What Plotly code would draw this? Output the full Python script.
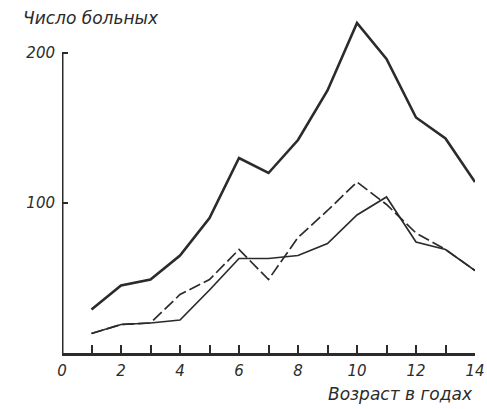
import plotly.graph_objects as go

ages = [1, 2, 3, 4, 5, 6, 7, 8, 9, 10, 11, 12, 13, 14]
total = [29, 45, 49, 65, 90, 130, 120, 142, 175, 220, 196, 157, 143, 114]
series_dashed = [13, 19, 20, 39, 49, 69, 49, 77, 95, 114, 99, 80, 69, 55]
series_solid = [13, 19, 20, 22, 42, 63, 63, 65, 73, 92, 104, 74, 69, 55]

x_tickvals = list(range(0, 15))
x_ticktext = [str(v) if v % 2 == 0 else "" for v in x_tickvals]
y_tickvals = [100, 200]

ink = "#2b2b2b"
font_main = dict(family="DejaVu Sans", size=17, color=ink, style="italic")
font_ticks = dict(family="DejaVu Sans", size=15, color=ink, style="italic")

fig = go.Figure()
fig.add_trace(go.Scatter(x=ages, y=total, mode="lines",
                         line=dict(color=ink, width=2.6), showlegend=False))
fig.add_trace(go.Scatter(x=ages, y=series_dashed, mode="lines",
                         line=dict(color=ink, width=1.7, dash="12px,4px"), showlegend=False))
fig.add_trace(go.Scatter(x=ages, y=series_solid, mode="lines",
                         line=dict(color=ink, width=1.7), showlegend=False))

fig.update_layout(
    width=487, height=409,
    margin=dict(l=62, r=5, t=2, b=56),
    paper_bgcolor="white", plot_bgcolor="white",
    font=font_main,
    xaxis=dict(range=[0, 14], tickvals=x_tickvals, ticktext=x_ticktext,
               ticks="inside", ticklen=8, tickwidth=1.5, tickcolor=ink,
               showline=True, linecolor=ink, linewidth=3,
               showgrid=False, zeroline=False, fixedrange=True,
               ticklabeloverflow="allow", ticklabelstandoff=2, tickfont=font_ticks),
    yaxis=dict(range=[0, 234], tickvals=y_tickvals,
               ticks="inside", ticklen=6, tickwidth=1.5, tickcolor=ink,
               showline=False, showgrid=False, zeroline=False, fixedrange=True,
               ticklabelstandoff=6, tickfont=font_ticks),
    annotations=[
        dict(text="Число больных", xref="paper", yref="paper",
             x=-0.1, y=0.99, xanchor="left", yanchor="top",
             showarrow=False, font=font_main),
        dict(text="Возраст в годах", xref="paper", yref="paper",
             x=1.0, y=-0.083, xanchor="right", yanchor="top",
             showarrow=False, font=font_main),
    ],
    shapes=[
        dict(type="line", xref="x", yref="y", x0=0, x1=0, y0=0, y1=200,
             line=dict(color=ink, width=3)),
    ],
)

fig.write_html("out.html", config={"displayModeBar": False})
with open("out.html", "r", encoding="utf-8") as f:
    html = f.read()
html = html.replace("<head>", "<head><style>html,body{margin:0;padding:0;overflow:hidden;}</style>", 1)
with open("out.html", "w", encoding="utf-8") as f:
    f.write(html)
